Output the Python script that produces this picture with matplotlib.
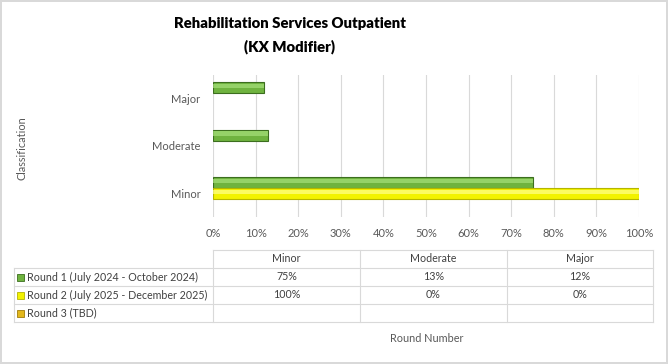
import numpy as np
import matplotlib.pyplot as plt
from matplotlib.patches import Rectangle

# Chart data
categories = ["Minor", "Moderate", "Major"]
series_names = ["Round 1 (July 2024 - October 2024)",
                "Round 2 (July 2025 - December 2025)",
                "Round 3 (TBD)"]
round1 = [75, 13, 12]
round2 = [100, 0, 0]
round3 = [None, None, None]
x_ticks = [0, 10, 20, 30, 40, 50, 60, 70, 80, 90, 100]

face_colors = ["#6FB33F", "#F2F200", "#E3B81C"]
edge_colors = ["#3C6E1F", "#B5B500", "#A07C0A"]
light_colors = ["#A6E07A", "#FFFF8C", "#F5D870"]

plt.rcParams['font.family'] = ['Lato', 'DejaVu Sans']
W, H = 668, 364
fig = plt.figure(figsize=(W / 100, H / 100), dpi=100)
fig.patch.set_edgecolor("#D9D9D9")
fig.patch.set_linewidth(1.5)

# Plot area (pixel-based placement)
ax = fig.add_axes([213 / W, 1 - 217 / H, 426 / W, 142 / H])
y = np.arange(len(categories))
h = 0.23
offsets = [h, 0, -h]
for k, vals in enumerate([round1, round2, round3]):
    keep = [i for i, a in enumerate(vals) if a]  # zero / empty bars are not drawn
    if not keep:
        continue
    yy = y[keep] + offsets[k]
    v = [vals[i] for i in keep]
    ax.barh(yy, v, height=h, color=face_colors[k],
            edgecolor=edge_colors[k], linewidth=0.8, zorder=3)
    # lighter upper highlight for the bevelled look
    ax.barh(yy + h * 0.15, v, height=h * 0.4,
            color=light_colors[k], linewidth=0, zorder=4, alpha=0.7)

ax.set_xlim(0, 100)
ax.set_ylim(-0.5, 2.5)
ax.set_xticks(x_ticks)
ax.set_xticklabels([f"{t}%" for t in x_ticks])
ax.set_yticks(y)
ax.set_yticklabels(categories)
ax.grid(axis="x", color="#D9D9D9", linewidth=0.8, zorder=0)
for s in ax.spines.values():
    s.set_visible(False)
ax.tick_params(length=0, labelsize=8, colors="#595959", pad=8)
ax.tick_params(axis="y", pad=9)

# Titles
fig.text(290 / W, 1 - 24 / H, "Rehabilitation Services Outpatient",
         ha="center", va="center", fontsize=10.7, fontweight="heavy")
fig.text(290 / W, 1 - 47 / H, "(KX Modifier)",
         ha="center", va="center", fontsize=10.7, fontweight="heavy")
fig.text(22 / W, 1 - 148 / H, "Classification", rotation=90,
         ha="center", va="center", fontsize=7.8, color="#595959")
fig.text(427 / W, 1 - 338 / H, "Round Number",
         ha="center", va="center", fontsize=7.8, color="#595959")

# Data table drawn in pixel coordinates
tab = fig.add_axes([0, 0, 1, 1])
tab.set_xlim(0, W)
tab.set_ylim(H, 0)
tab.axis("off")
grid_c = "#D9D9D9"
col_x = [14, 213, 360, 507, 653]
row_y = [250, 268, 286, 304, 322]
tab.plot([col_x[1], col_x[-1]], [row_y[0]] * 2, color=grid_c, lw=0.8)
for yy in row_y[1:]:
    tab.plot([col_x[0], col_x[-1]], [yy] * 2, color=grid_c, lw=0.8)
tab.plot([col_x[0]] * 2, [row_y[1], row_y[-1]], color=grid_c, lw=0.8)
for xx in col_x[1:]:
    tab.plot([xx] * 2, [row_y[0], row_y[-1]], color=grid_c, lw=0.8)

for j, cat in enumerate(categories):
    cx = (col_x[j + 1] + col_x[j + 2]) / 2
    tab.text(cx, (row_y[0] + row_y[1]) / 2, cat, ha="center", va="center",
             fontsize=7.7, color="#404040")
for i, (name, vals) in enumerate(zip(series_names, [round1, round2, round3])):
    cy = (row_y[i + 1] + row_y[i + 2]) / 2
    tab.add_patch(Rectangle((17, cy - 3.5), 7, 7, facecolor=face_colors[i],
                            edgecolor=edge_colors[i], lw=0.6))
    tab.text(27, cy, name, ha="left", va="center", fontsize=7.7, color="#404040")
    for j, v in enumerate(vals):
        if v is None:
            continue
        cx = (col_x[j + 1] + col_x[j + 2]) / 2
        tab.text(cx, cy, f"{v}%", ha="center", va="center",
                 fontsize=7.7, color="#404040")

fig.savefig("out.png", dpi=100)
